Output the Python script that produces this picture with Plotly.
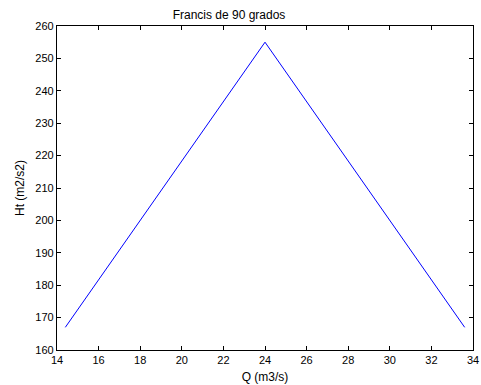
import plotly.graph_objects as go

Q = [14.4, 24.0, 33.6]
Ht = [167, 255, 167]
x_ticks = list(range(14, 35, 2))
y_ticks = list(range(160, 261, 10))

FONT = "Liberation Sans, Arial"

fig = go.Figure()
fig.add_trace(go.Scatter(x=Q, y=Ht, mode="lines",
                         line=dict(color="#0000ff", width=1), showlegend=False))

axis_common = dict(showline=True, linecolor="black", linewidth=1.3, mirror="ticks",
                   ticks="inside", ticklen=4, tickcolor="black", tickwidth=1,
                   showgrid=False, zeroline=False, automargin=False,
                   tickfont=dict(family=FONT, size=11, color="black"))

fig.update_layout(
    width=481, height=385,
    margin=dict(l=57, r=8, t=26, b=35),
    paper_bgcolor="white", plot_bgcolor="white",
    title=dict(text="Francis de 90 grados", xref="container", x=229 / 481, xanchor="center",
               y=1 - 15 / 385, yanchor="middle",
               font=dict(family=FONT, size=12, color="black")),
    xaxis=dict(range=[14, 34], tickvals=x_ticks,
               title=dict(text="Q (m3/s)", standoff=7,
                          font=dict(family=FONT, size=12, color="black")),
               **axis_common),
    yaxis=dict(range=[160, 260], tickvals=y_ticks,
               title=dict(text="Ht (m2/s2)", standoff=8,
                          font=dict(family=FONT, size=12, color="black")),
               **axis_common),
)

fig.write_html("out.html")
